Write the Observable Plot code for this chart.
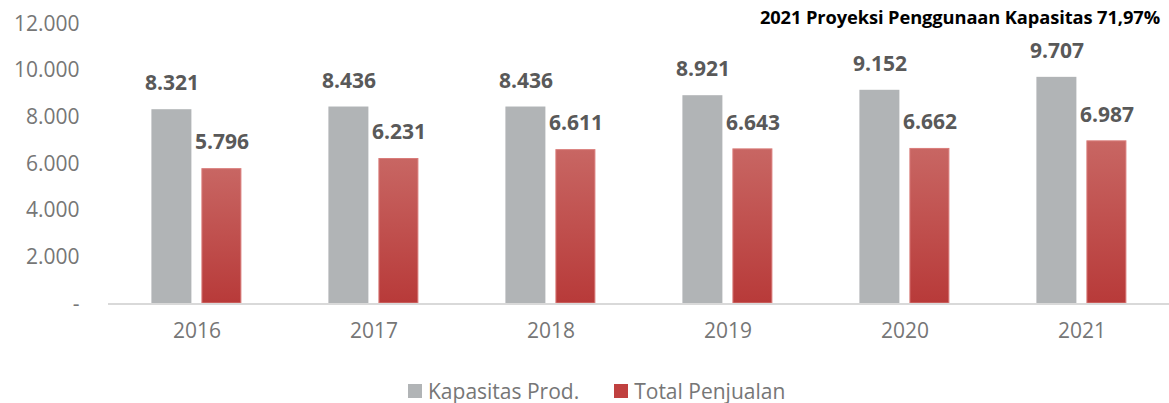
<!DOCTYPE html>
<html>
<head>
<meta charset="utf-8">
<script src="https://cdn.jsdelivr.net/npm/d3@7"></script>
<script src="https://cdn.jsdelivr.net/npm/@observablehq/plot@0.6"></script>
<style>
  html, body { margin: 0; padding: 0; background: #fff; }
  #wrap { position: relative; width: 1169px; height: 403px; font-family: "Open Sans", sans-serif; }
  #title { position: absolute; right: 9px; top: 4px; font-weight: bold; font-size: 18.3px; color: #000; letter-spacing: -0.1px; white-space: nowrap; z-index: 2; }
  #legend { position: absolute; left: 408px; top: 377px; display: flex; align-items: center; font-size: 21px; color: #767676; }
  .item { display: flex; align-items: center; margin-right: 35px; }
  .sw { width: 14px; height: 14px; margin-right: 6px; }
</style>
</head>
<body>
<div id="wrap">
  <div id="title"></div>
  <div id="chart"></div>
  <div id="legend"></div>
</div>
<script>
const titleText = "2021 Proyeksi Penggunaan Kapasitas 71,97%";
const years = ["2016", "2017", "2018", "2019", "2020", "2021"];
const seriesNames = ["Kapasitas Prod.", "Total Penjualan"];
const kapasitas = [8321, 8436, 8436, 8921, 9152, 9707];
const penjualan = [5796, 6231, 6611, 6643, 6662, 6987];
const yTicks = [0, 2000, 4000, 6000, 8000, 10000, 12000];
const seriesColors = ["#b1b4b6", "#c0403f"];

const locale = d3.formatLocale({decimal: ",", thousands: ".", grouping: [3], currency: ["", ""]});
const fmt = locale.format(",");

const data = [];
years.forEach((y, i) => {
  data.push({year: y, series: seriesNames[0], value: kapasitas[i]});
  data.push({year: y, series: seriesNames[1], value: penjualan[i]});
});

document.getElementById("title").textContent = titleText;

const defs = () => {
  const d = d3.create("svg:defs");
  const g = d.append("linearGradient").attr("id", "redgrad").attr("x1", 0).attr("y1", 0).attr("x2", 0).attr("y2", 1);
  g.append("stop").attr("offset", "0%").attr("stop-color", "#c86663");
  g.append("stop").attr("offset", "100%").attr("stop-color", "#b83a39");
  return d.node();
};

const chart = Plot.plot({
  width: 1169,
  height: 365,
  marginTop: 23.3,
  marginBottom: 61.5,
  marginLeft: 106.6,
  marginRight: 0,
  style: {fontFamily: "Open Sans", fontSize: "21px", color: "#767676", background: "transparent"},
  fx: {domain: years, range: [105.6, 1172.4], padding: 0, label: null, tickSize: 0, tickPadding: 19},
  x: {domain: seriesNames, paddingInner: 0.2, paddingOuter: 0.86, axis: null},
  y: {domain: [0, 12000], ticks: yTicks, tickFormat: d => d === 0 ? "-" : fmt(d), tickSize: 0, tickPadding: 29, label: null},
  marks: [
    defs,
    Plot.barY(data.filter(d => d.series === seriesNames[0]), {fx: "year", x: "series", y: "value", fill: seriesColors[0]}),
    Plot.barY(data.filter(d => d.series === seriesNames[1]), {fx: "year", x: "series", y: "value", fill: "url(#redgrad)", stroke: "#d97c7a", strokeWidth: 1, inset: 0.5}),
    Plot.ruleY([0], {stroke: "#d9d9d9", strokeWidth: 2}),
    Plot.text(data, {fx: "year", x: "series", y: "value", text: d => fmt(d.value), dy: -26, fontWeight: "bold", fontSize: 21, fill: "#595959"})
  ]
});
document.getElementById("chart").appendChild(chart);

const legend = document.getElementById("legend");
seriesNames.forEach((s, i) => {
  const it = document.createElement("div");
  it.className = "item";
  const sw = document.createElement("div");
  sw.className = "sw";
  sw.style.background = seriesColors[i];
  const t = document.createElement("span");
  t.textContent = s;
  it.appendChild(sw);
  it.appendChild(t);
  legend.appendChild(it);
});
</script>
</body>
</html>
